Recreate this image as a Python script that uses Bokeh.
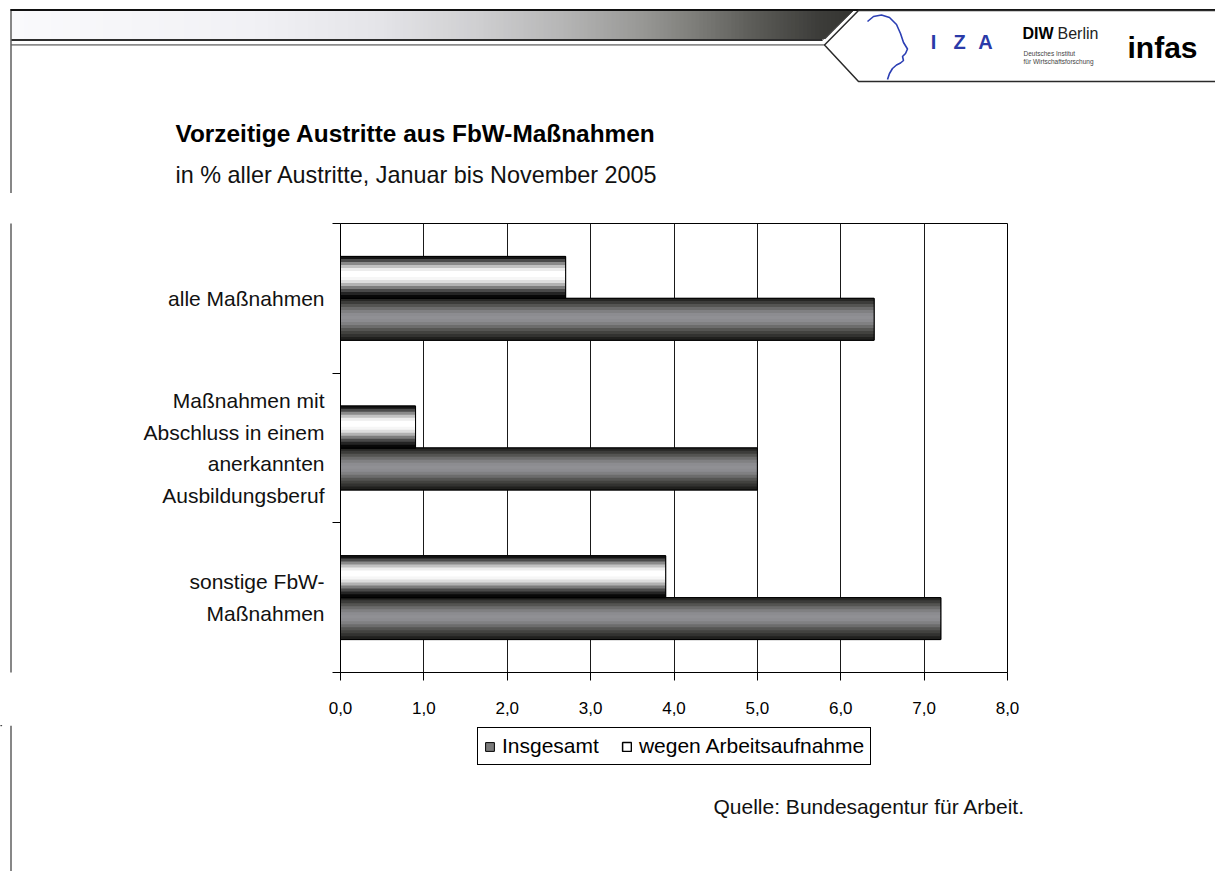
import numpy as np
from bokeh.plotting import figure
from bokeh.layouts import column, row
from bokeh.models import Range1d, FixedTicker, LinearAxis, Legend, LegendItem
from bokeh.core.properties import value
from bokeh.embed import file_html
from bokeh.resources import INLINE

# ---- data -------------------------------------------------------------
categories = [
    "alle Maßnahmen",
    "Maßnahmen mit\nAbschluss in einem\nanerkannten\nAusbildungsberuf",
    "sonstige FbW-\nMaßnahmen",
]
insgesamt = [6.4, 5.0, 7.2]
wegen_arbeitsaufnahme = [2.7, 0.9, 3.9]
series_names = ["Insgesamt", "wegen Arbeitsaufnahme"]
x_ticks = [0, 1, 2, 3, 4, 5, 6, 7, 8]
x_tick_labels = ["0,0", "1,0", "2,0", "3,0", "4,0", "5,0", "6,0", "7,0", "8,0"]
title_text = "Vorzeitige Austritte aus FbW-Maßnahmen"
subtitle_text = "in % aller Austritte, Januar bis November 2005"
source_text = "Quelle: Bundesagentur für Arbeit."

# ---- page geometry ----------------------------------------------------
W, H = 1215, 871
TOP_H = 193          # header strip height
MID_H = 532          # chart row height
SIDE_W = 20          # strip left of the chart carrying the page's left rule
RULE_X = 10          # x of the page's left rule
FONT = "Liberation Sans"


def canvas_fig(w, h, y0):
    """A figure whose frame is its whole canvas, addressed in page pixels (y down)."""
    f = figure(width=w, height=h, x_range=Range1d(0, w), y_range=Range1d(y0 + h, y0),
               min_border=0, toolbar_location=None, output_backend="svg",
               x_axis_type=None, y_axis_type=None)
    f.outline_line_color = None
    f.background_fill_color = "white"
    f.border_fill_color = "white"
    return f


def txt(f, x, y, s, size, color="black", bold=False, align="left", font=FONT):
    f.text(x=[x], y=[y], text=[s], text_font=value(font), text_font_size=value(f"{size}px"),
           text_color=color, text_font_style=value("bold" if bold else "normal"),
           text_align=value(align), text_baseline=value("middle"))


def rule(f, l, r, t, b, color):
    f.quad(left=[l], right=[r], top=[t], bottom=[b], fill_color=color, line_color=None)


# ---- header -----------------------------------------------------------
top = canvas_fig(W, TOP_H, 0)

stops_x = [11, 250, 380, 480, 560, 640, 700, 760, 820, 860]
stops_v = np.array([[250, 250, 252], [241, 241, 245], [228, 228, 232], [206, 206, 208],
                    [182, 182, 182], [152, 152, 150], [122, 122, 118], [88, 88, 84],
                    [60, 60, 57], [50, 50, 48]], dtype=float)
lefts = np.arange(11, 860, 4.0)
rights = np.minimum(lefts + 4.6, 860)
mids = (lefts + np.minimum(lefts + 4, 860)) / 2
band_colors = []
for xm in mids:
    rgb = [int(round(np.interp(xm, stops_x, stops_v[:, c]))) for c in range(3)]
    band_colors.append("#%02x%02x%02x" % tuple(rgb))
top.quad(left=lefts, right=rights, top=10.5, bottom=38.5, fill_color=band_colors, line_color=None)

# white wedge cut at the right end of the band
top.patch([852.5, 870, 870, 821.5], [10.5, 10.5, 42, 42], fill_color="white", line_color=None)
# rules below the band
rule(top, 11, 822, 38.5, 40.5, "#2e2e2e")
rule(top, 11, 825, 43.5, 45.2, "#8c8c8c")
# page frame lines
rule(top, RULE_X, W, 8.5, 10.5, "#111111")
rule(top, RULE_X, RULE_X + 1, 8.5, TOP_H, "#111111")
# logo panel
top.patch([858, 1216, 1216, 858, 824], [10, 10, 81, 81, 44.5],
          fill_color="white", line_color="#2a2a2a", line_width=1.5)
top.line([852.5, 822], [10.5, 39.5], line_color="#444444", line_width=1)

# IZA head profile and logo lettering
head_x = [867, 873, 881, 889, 896, 900, 903, 907, 905, 902, 903, 900, 896, 892, 889, 887]
head_y = [21, 16, 14.5, 17, 24, 33, 42, 48.5, 53, 56, 60, 62.5, 64.5, 68, 73, 79]
top.line(head_x, head_y, line_color="#2c3fb4", line_width=1.6)
txt(top, 933, 41, "I", 20, color="#2a3aa8", bold=True, align="center")
txt(top, 959, 41, "Z", 20, color="#2a3aa8", bold=True, align="center")
txt(top, 985, 41, "A", 20, color="#2a3aa8", bold=True, align="center")
txt(top, 1022, 33, "DIW", 16, bold=True)
txt(top, 1057, 33, "Berlin", 16, color="#222222")
txt(top, 1023, 53, "Deutsches Institut", 6.5, color="#444444")
txt(top, 1023, 61, "für Wirtschaftsforschung", 6.5, color="#444444")
txt(top, 1162, 47, "infas", 30, bold=True, align="center")

# chart title and subtitle
txt(top, 175, 133, title_text, 24.4, bold=True)
txt(top, 175, 174, subtitle_text, 23.4, color="#111111")

# ---- strip left of the chart: continues the page's left rule ------------
side = canvas_fig(SIDE_W, MID_H, TOP_H)
rule(side, RULE_X, RULE_X + 1, TOP_H - 50, TOP_H + MID_H + 50, "#111111")

# ---- chart --------------------------------------------------------------
n = len(categories)
chart = figure(width=W - SIDE_W, height=MID_H, output_backend="svg", toolbar_location=None,
               x_range=Range1d(0, 8), y_range=Range1d(0, n),
               min_border_left=340 - SIDE_W, min_border_right=208,
               min_border_top=30, min_border_bottom=53)
chart.background_fill_color = "white"
chart.border_fill_color = "white"
chart.outline_line_color = "black"
chart.outline_line_width = 1

chart.xaxis.ticker = FixedTicker(ticks=x_ticks)
chart.xaxis.major_label_overrides = {t: s for t, s in zip(x_ticks, x_tick_labels)}
chart.xaxis.major_label_text_font = FONT
chart.xaxis.major_label_text_font_size = "17px"
chart.xaxis.major_label_text_color = "black"
chart.xaxis.major_label_standoff = 21
chart.xaxis.major_tick_out = 8
chart.xaxis.major_tick_in = 0
chart.xaxis.minor_tick_line_color = None
chart.xaxis.axis_line_color = "black"
chart.xaxis.major_tick_line_color = "black"

# category boundaries carry the ticks
chart.yaxis.ticker = FixedTicker(ticks=list(range(n + 1)))
chart.yaxis.major_label_overrides = {t: "" for t in range(n + 1)}
chart.yaxis.major_label_standoff = 0
chart.yaxis.major_tick_out = 8
chart.yaxis.major_tick_in = 0
chart.yaxis.minor_tick_line_color = None
chart.yaxis.axis_line_color = "black"
chart.yaxis.major_tick_line_color = "black"

# category names sit at the band centres
centers = [n - i - 0.5 for i in range(n)]
cat_axis = LinearAxis(ticker=FixedTicker(ticks=centers),
                      major_label_overrides={c: lab for c, lab in zip(centers, categories)},
                      major_tick_out=0, major_tick_in=0, axis_line_color=None,
                      major_tick_line_color=None, minor_tick_line_color=None,
                      major_label_standoff=8, major_label_text_align="center",
                      major_label_text_font=FONT, major_label_text_font_size="21px",
                      major_label_text_line_height=1.38, major_label_text_color="#111111")
chart.add_layout(cat_axis, "left")

chart.xgrid.ticker = FixedTicker(ticks=x_ticks)
chart.xgrid.grid_line_color = "#1a1a1a"
chart.xgrid.grid_line_width = 1
chart.ygrid.grid_line_color = None

# cylinder-shaded bars
BAR_H = 0.28
white_y = [c + BAR_H / 2 for c in centers]
dark_y = [c - BAR_H / 2 for c in centers]

white_shades = ["#141414", "#4a4a4a", "#8a8a8a", "#c2c2c2", "#ececec", "#ffffff", "#ffffff",
                "#f6f6f6", "#dedede", "#b2b2b2", "#7c7c7c", "#4a4a4a", "#242424", "#080808"]
dark_shades = ["#262624", "#3c3c3a", "#545452", "#6c6c6c", "#808082", "#8c8c90", "#909094",
               "#8c8c90", "#808082", "#6c6c6c", "#555553", "#42423f", "#323230", "#20201e"]


def cylinder(ys, values, base_fill, shades):
    chart.hbar(y=ys, left=0, right=values, height=BAR_H,
               fill_color=base_fill, line_color="black", line_width=1)
    step = BAR_H / len(shades)
    for k, col in enumerate(shades):
        off = BAR_H / 2 - (k + 0.5) * step
        chart.hbar(y=[y + off for y in ys], left=0, right=values, height=step * 1.2,
                   fill_color=col, line_color=None)
    chart.hbar(y=ys, left=0, right=values, height=BAR_H,
               fill_color=None, line_color="black", line_width=1)


cylinder(dark_y, insgesamt, "#7a7a7a", dark_shades)
cylinder(white_y, wegen_arbeitsaufnahme, "#ffffff", white_shades)

# ---- footer: legend and source ------------------------------------------
FOOT_Y0 = TOP_H + MID_H
foot = canvas_fig(W, H - FOOT_Y0, FOOT_Y0)
rule(foot, RULE_X, RULE_X + 1, FOOT_Y0, H, "#111111")

# legend swatches: bar styles placed off the visible strip
key_dark = foot.hbar(y=[-100], left=[0], right=[1], height=1,
                     fill_color="#7a7a7a", line_color="black", line_width=1)
key_white = foot.hbar(y=[-100], left=[0], right=[1], height=1,
                      fill_color="#ffffff", line_color="black", line_width=1.5)
legend = Legend(items=[LegendItem(label=series_names[0], renderers=[key_dark]),
                       LegendItem(label=series_names[1], renderers=[key_white])],
                orientation="horizontal", location=(477, H - 765),
                border_line_color="black", border_line_width=1, border_line_alpha=1,
                background_fill_color="white", background_fill_alpha=1,
                label_text_font=FONT, label_text_font_size="21px", label_text_color="black",
                glyph_width=11, glyph_height=11, label_standoff=7, spacing=22,
                padding=6, margin=0)
foot.add_layout(legend, "center")

txt(foot, 713, 806, source_text, 21, color="#111111")

page = column(top, row(side, chart), foot)
open("out.html", "w").write(file_html(page, INLINE))
